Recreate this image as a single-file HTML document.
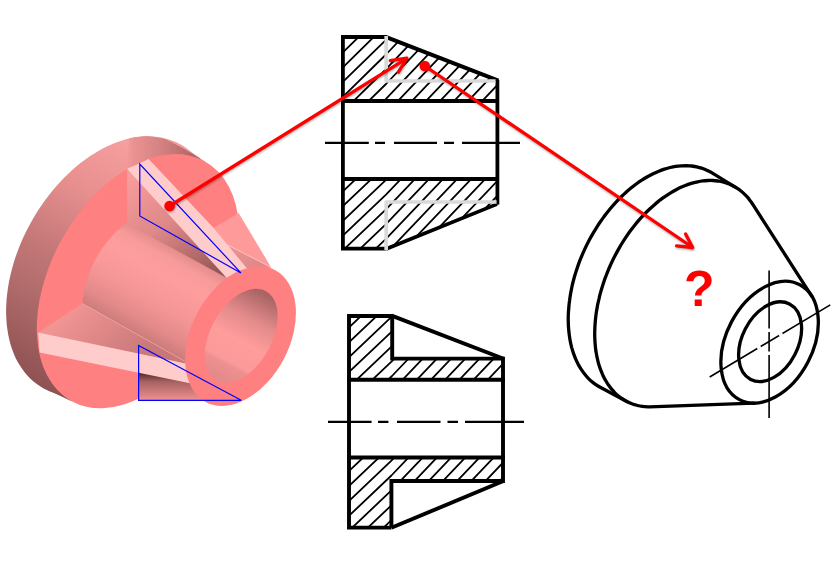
<!DOCTYPE html>
<html lang="en">
<head>
<meta charset="utf-8">
<title>Section view question</title>
<style>
html,body{margin:0;padding:0;background:#ffffff;}
body{width:836px;height:563px;overflow:hidden;font-family:"Liberation Sans",sans-serif;}
svg{display:block;}
</style>
</head>
<body>
<svg width="836" height="563" viewBox="0 0 836 563">
<defs>
<filter id="fSh" x="-5%" y="-5%" width="110%" height="110%"><feGaussianBlur stdDeviation="0.9"/></filter>
<linearGradient id="gRim" gradientUnits="userSpaceOnUse" x1="150" y1="130" x2="10" y2="380">
<stop offset="0" stop-color="#f59c9c"/><stop offset="0.06" stop-color="#f89f9f"/><stop offset="0.29" stop-color="#e89090"/><stop offset="0.52" stop-color="#c67979"/><stop offset="0.655" stop-color="#b56f6f"/><stop offset="0.806" stop-color="#a36161"/><stop offset="0.924" stop-color="#935555"/><stop offset="1" stop-color="#8c5050"/>
</linearGradient>
<linearGradient id="gRimTop" gradientUnits="userSpaceOnUse" x1="122" y1="150" x2="200" y2="150">
<stop offset="0" stop-color="#f39a9a" stop-opacity="0"/><stop offset="0.15" stop-color="#ea9292"/><stop offset="0.5" stop-color="#d48282"/><stop offset="1" stop-color="#a56262"/>
</linearGradient>
<linearGradient id="gHub" gradientUnits="userSpaceOnUse" x1="150" y1="236.5" x2="105.6" y2="316.6">
<stop offset="0" stop-color="#e68e8e"/><stop offset="0.12" stop-color="#f99b9b"/><stop offset="0.3" stop-color="#ff9d9d"/><stop offset="0.6" stop-color="#f59696"/><stop offset="0.85" stop-color="#e28989"/><stop offset="1" stop-color="#cc7c7c"/>
</linearGradient>
<linearGradient id="gRibL" gradientUnits="userSpaceOnUse" x1="70" y1="310" x2="130" y2="370">
<stop offset="0" stop-color="#f19494"/><stop offset="1" stop-color="#c87878"/>
</linearGradient>
<linearGradient id="gRibT" gradientUnits="userSpaceOnUse" x1="135" y1="175" x2="205" y2="285">
<stop offset="0" stop-color="#f89c9c"/><stop offset="0.45" stop-color="#de8888"/><stop offset="0.8" stop-color="#b06868"/><stop offset="1" stop-color="#8f5353"/>
</linearGradient>
<linearGradient id="gShadowT" gradientUnits="userSpaceOnUse" x1="215" y1="245" x2="185" y2="285">
<stop offset="0" stop-color="#8f5252"/><stop offset="1" stop-color="#f09292"/>
</linearGradient>
<linearGradient id="gShadowB" gradientUnits="userSpaceOnUse" x1="160" y1="372" x2="160" y2="400">
<stop offset="0" stop-color="#4a2222"/><stop offset="0.35" stop-color="#a86262"/><stop offset="1" stop-color="#ee9090"/>
</linearGradient>
<linearGradient id="gBore" gradientUnits="userSpaceOnUse" x1="264" y1="294" x2="220" y2="378">
<stop offset="0" stop-color="#a96464"/><stop offset="0.3" stop-color="#e38b8b"/><stop offset="0.55" stop-color="#ff9c9c"/><stop offset="0.8" stop-color="#fb9a9a"/><stop offset="0.84" stop-color="#ee9090"/><stop offset="1" stop-color="#e48a8a"/>
</linearGradient>
<linearGradient id="gRibR2" gradientUnits="userSpaceOnUse" x1="225" y1="244" x2="260" y2="268">
<stop offset="0" stop-color="#f29595"/><stop offset="1" stop-color="#dd8787"/>
</linearGradient>
</defs>
<g fill="url(#gRim)">
<path d="M180.5 144.4 C182.8 145.7 185.1 147.2 187.2 148.8 C189.4 150.5 191.4 152.2 193.4 154.1 C195.3 156.0 197.1 158.1 198.9 160.3 C200.6 162.5 202.2 164.8 203.7 167.2 C205.2 169.7 206.6 172.3 207.9 175.0 C209.1 177.6 210.3 180.5 211.3 183.4 C212.3 186.3 213.2 189.3 213.9 192.4 C214.7 195.5 215.3 198.7 215.8 202.0 C216.3 205.3 216.7 208.6 216.9 212.1 C217.1 215.5 217.2 219.0 217.2 222.6 C217.1 226.1 217.0 229.7 216.7 233.4 C216.3 237.0 215.9 240.8 215.3 244.5 C214.8 248.2 214.1 252.0 213.2 255.7 C212.4 259.5 211.4 263.3 210.3 267.0 C209.3 270.8 208.0 274.6 206.7 278.4 C205.4 282.1 203.9 285.9 202.4 289.6 C200.8 293.3 199.1 297.0 197.3 300.6 C195.5 304.3 193.6 307.9 191.6 311.4 C189.6 314.9 187.5 318.4 185.3 321.8 C183.1 325.2 180.8 328.6 178.4 331.8 C176.1 335.1 173.6 338.3 171.1 341.4 C168.5 344.4 165.9 347.4 163.2 350.3 C160.6 353.2 157.8 356.0 155.0 358.6 C152.2 361.3 149.4 363.8 146.5 366.2 C143.6 368.6 140.6 370.9 137.6 373.0 C134.7 375.2 131.7 377.2 128.6 379.1 C125.6 380.9 122.5 382.7 119.5 384.2 C116.4 385.8 113.4 387.2 110.3 388.5 C107.2 389.8 104.1 390.9 101.1 391.8 C98.0 392.8 95.0 393.6 92.0 394.2 C89.0 394.8 86.0 395.3 83.0 395.6 C80.1 395.9 77.1 396.0 74.3 396.0 C71.4 396.0 68.6 395.8 65.8 395.4 C63.1 395.1 60.3 394.6 57.7 393.9 C55.1 393.2 52.5 392.4 50.0 391.4 C47.5 390.4 45.1 389.2 42.8 387.9 C40.5 386.6 38.2 385.1 36.1 383.5 C33.9 381.9 31.9 380.1 29.9 378.2 C28.0 376.3 26.2 374.2 24.4 372.0 C22.7 369.8 21.1 367.5 19.6 365.1 C18.1 362.6 16.7 360.0 15.4 357.4 C14.2 354.7 13.0 351.9 12.0 349.0 C11.0 346.1 10.1 343.0 9.4 339.9 C8.6 336.8 8.0 333.6 7.5 330.3 C7.0 327.1 6.6 323.7 6.4 320.2 C6.2 316.8 6.1 313.3 6.1 309.8 C6.2 306.2 6.3 302.6 6.6 298.9 C7.0 295.3 7.4 291.6 8.0 287.8 C8.5 284.1 9.2 280.4 10.1 276.6 C10.9 272.8 11.9 269.1 13.0 265.3 C14.0 261.5 15.3 257.7 16.6 254.0 C17.9 250.2 19.4 246.5 20.9 242.7 C22.5 239.0 24.2 235.3 26.0 231.7 C27.8 228.1 29.7 224.5 31.7 220.9 C33.7 217.4 35.8 213.9 38.0 210.5 C40.2 207.1 42.5 203.7 44.9 200.5 C47.2 197.2 49.7 194.0 52.2 191.0 C54.8 187.9 57.4 184.9 60.1 182.0 C62.7 179.1 65.5 176.4 68.3 173.7 C71.1 171.1 73.9 168.5 76.8 166.1 C79.7 163.7 82.7 161.4 85.7 159.3 C88.6 157.1 91.6 155.1 94.7 153.3 C97.7 151.4 100.8 149.7 103.8 148.1 C106.9 146.5 109.9 145.1 113.0 143.8 C116.1 142.6 119.2 141.5 122.2 140.5 C125.3 139.5 128.3 138.8 131.3 138.1 C134.3 137.5 137.3 137.0 140.3 136.7 C143.2 136.4 146.2 136.3 149.0 136.3 C151.9 136.3 154.7 136.5 157.5 136.9 C160.2 137.2 163.0 137.7 165.6 138.4 C168.2 139.1 170.8 140.0 173.3 141.0 C175.8 142.0 178.2 143.1 180.5 144.4Z"/>
<path d="M180.5 144.5 L205 161.4 L71.1 400.9 L42.8 387.8Z"/>
</g>
<path d="M199.4 158.0 C198.1 157.2 195.2 155.3 191.6 153.2 C188.0 151.1 182.8 147.8 177.9 145.4 C173.0 143.0 167.5 140.1 162.3 138.6 C157.1 137.1 152.2 136.3 146.7 136.2 C141.1 136.1 131.9 137.7 129.0 138.0 L127 170 L205 165 Z" fill="url(#gRimTop)"/>
<ellipse cx="138.04" cy="281.14" rx="137.2" ry="87" transform="rotate(-60.8 138.04 281.14)" fill="#ff8080"/>
<path d="M213.7 227.9 L238.6 213.0 L271.2 267.4 L250.0 270.0 L225.4 243.9Z" fill="#ff9a9a"/>
<path d="M225.4 243.9 L271.2 267.4 L245.0 268.0Z" fill="url(#gRibR2)"/>
<path d="M225.4 243.9 L271.2 267.4" stroke="#ffd6d6" stroke-width="0.7"/>
<path d="M126.8 222.8 C126.4 223.2 124.9 224.3 123.9 225.0 C122.9 225.8 121.9 226.6 121.0 227.4 C120.0 228.2 119.0 229.1 118.1 229.9 C117.1 230.8 116.2 231.7 115.3 232.6 C114.4 233.5 113.4 234.5 112.5 235.4 C111.6 236.4 110.7 237.4 109.9 238.4 C109.0 239.4 108.1 240.4 107.3 241.5 C106.4 242.5 105.6 243.6 104.8 244.7 C104.0 245.8 103.2 246.9 102.4 248.0 C101.6 249.1 100.9 250.2 100.1 251.4 C99.4 252.6 98.6 253.7 97.9 254.9 C97.2 256.1 96.6 257.3 95.9 258.5 C95.2 259.7 94.6 260.9 94.0 262.1 C93.3 263.4 92.7 264.6 92.2 265.8 C91.6 267.1 91.0 268.3 90.5 269.6 C90.0 270.9 89.5 272.1 89.0 273.4 C88.5 274.6 88.1 275.9 87.6 277.2 C87.2 278.5 86.8 279.7 86.4 281.0 C86.0 282.3 85.7 283.6 85.3 284.8 C85.0 286.1 84.7 287.4 84.4 288.6 C84.2 289.9 83.9 291.2 83.7 292.4 C83.5 293.7 83.3 294.9 83.1 296.2 C82.9 297.4 82.8 298.7 82.7 299.9 C82.6 301.1 82.5 302.9 82.4 303.6 L184.4 361 L200 400 L260 330 L227.5 278 L127 223.7 Z" fill="url(#gHub)"/>
<path d="M82.4 303.5 L38.2 332.5 L185.6 363.4 L184.4 361.0Z" fill="url(#gRibL)"/>
<path d="M82.4 303.5 L184.4 361" stroke="#f7b4b4" stroke-width="0.6"/>
<path d="M138.5 370.0 L190.0 380.0 L215.0 400.5 L138.5 400.5Z" fill="url(#gShadowB)"/>
<path d="M38.2 332.5 L185.6 363.4 L190.0 383.2 L39.6 352.6Z" fill="#ffcccc"/>
<path d="M127.1 168.5 L127.1 223.5 L226.5 277.7 L200.0 240.0Z" fill="url(#gRibT)"/>
<path d="M127.1 168.8 L139.8 163.2 L148.6 159.1 L213.7 227.9 L247.0 268.6 L226.5 277.7Z" fill="#ffcccc"/>
<ellipse cx="240.5" cy="336.1" rx="74.5" ry="49" transform="rotate(-62.5 240.5 336.1)" fill="#ff8080"/>
<path d="M265.9 291.2 C267.1 291.8 268.2 292.6 269.2 293.5 C270.2 294.4 271.1 295.4 272.0 296.5 C272.8 297.7 273.6 298.9 274.3 300.2 C274.9 301.6 275.5 303.0 276.0 304.6 C276.4 306.1 276.8 307.7 277.1 309.4 C277.3 311.1 277.5 312.9 277.5 314.7 C277.6 316.5 277.6 318.4 277.4 320.4 C277.3 322.3 277.0 324.3 276.7 326.3 C276.3 328.3 275.9 330.4 275.3 332.4 C274.8 334.4 274.1 336.5 273.4 338.5 C272.6 340.6 271.8 342.6 270.9 344.6 C270.0 346.6 269.0 348.6 267.9 350.6 C266.8 352.5 265.6 354.4 264.4 356.3 C263.2 358.1 261.9 359.9 260.6 361.6 C259.2 363.3 257.8 365.0 256.4 366.5 C254.9 368.1 253.5 369.5 251.9 370.9 C250.4 372.3 248.9 373.5 247.3 374.7 C245.8 375.8 244.2 376.9 242.6 377.8 C241.0 378.7 239.4 379.5 237.8 380.2 C236.2 380.9 234.7 381.4 233.1 381.8 C231.6 382.2 230.0 382.5 228.6 382.7 C227.1 382.8 225.6 382.8 224.2 382.7 C222.8 382.6 221.5 382.3 220.2 382.0 C218.9 381.6 217.6 381.0 216.5 380.4 C215.3 379.8 214.2 379.0 213.2 378.1 C212.2 377.2 211.3 376.2 210.4 375.1 C209.6 373.9 208.8 372.7 208.1 371.4 C207.5 370.0 206.9 368.6 206.4 367.0 C206.0 365.5 205.6 363.9 205.3 362.2 C205.1 360.5 204.9 358.7 204.9 356.9 C204.8 355.1 204.8 353.2 205.0 351.2 C205.1 349.3 205.4 347.3 205.7 345.3 C206.1 343.3 206.5 341.2 207.1 339.2 C207.6 337.2 208.3 335.1 209.0 333.1 C209.8 331.0 210.6 329.0 211.5 327.0 C212.4 325.0 213.4 323.0 214.5 321.0 C215.6 319.1 216.8 317.2 218.0 315.3 C219.2 313.5 220.5 311.7 221.8 310.0 C223.2 308.3 224.6 306.6 226.0 305.1 C227.5 303.5 228.9 302.1 230.5 300.7 C232.0 299.3 233.5 298.1 235.1 296.9 C236.6 295.8 238.2 294.7 239.8 293.8 C241.4 292.9 243.0 292.1 244.6 291.4 C246.2 290.7 247.7 290.2 249.3 289.8 C250.8 289.4 252.4 289.1 253.8 288.9 C255.3 288.8 256.8 288.8 258.2 288.9 C259.6 289.0 260.9 289.3 262.2 289.6 C263.5 290.0 264.8 290.6 265.9 291.2Z" fill="url(#gBore)"/>
<path d="M139.8 164 L139.8 216 L240.9 272.9 Z" fill="none" stroke="#0000ff" stroke-width="1.2"/>
<path d="M138.6 345.5 L138.6 400.3 L241.2 400.3 Z" fill="none" stroke="#0000ff" stroke-width="1.2"/>
<clipPath id="cT1"><path d="M343 37 L386 37 L497.3 80 L497.3 101 L343 101Z"/></clipPath>
<clipPath id="cT2"><path d="M343 179 L497.3 179 L497.3 203.6 L386 248.7 L343 248.7Z"/></clipPath>
<g clip-path="url(#cT1)" stroke="#000" stroke-width="1.8" fill="none" stroke-linejoin="round">
<path d="M340.0 11.1 L386.0 -34.0 L500.0 -153.7"/>
<path d="M340.0 25.8 L386.0 -19.2 L500.0 -138.9"/>
<path d="M340.0 40.6 L386.0 -4.5 L500.0 -124.2"/>
<path d="M340.0 55.3 L386.0 10.2 L500.0 -109.5"/>
<path d="M340.0 70.1 L386.0 25.0 L500.0 -94.7"/>
<path d="M340.0 84.8 L386.0 39.8 L500.0 -80.0"/>
<path d="M340.0 99.6 L386.0 54.5 L500.0 -65.2"/>
<path d="M340.0 114.3 L386.0 69.2 L500.0 -50.5"/>
<path d="M340.0 129.1 L386.0 84.0 L500.0 -35.7"/>
<path d="M340.0 143.8 L386.0 98.8 L500.0 -21.0"/>
<path d="M340.0 158.6 L386.0 113.5 L500.0 -6.2"/>
<path d="M340.0 173.3 L386.0 128.2 L500.0 8.5"/>
<path d="M340.0 188.1 L386.0 143.0 L500.0 23.3"/>
<path d="M340.0 202.8 L386.0 157.8 L500.0 38.0"/>
<path d="M340.0 217.6 L386.0 172.5 L500.0 52.8"/>
<path d="M340.0 232.3 L386.0 187.2 L500.0 67.5"/>
<path d="M340.0 247.1 L386.0 202.0 L500.0 82.3"/>
<path d="M340.0 261.8 L386.0 216.8 L500.0 97.0"/>
</g>
<g clip-path="url(#cT2)" stroke="#000" stroke-width="1.8" fill="none" stroke-linejoin="round">
<path d="M340.0 149.9 L386.0 106.2 L500.0 -13.5"/>
<path d="M340.0 164.6 L386.0 120.9 L500.0 1.2"/>
<path d="M340.0 179.4 L386.0 135.7 L500.0 16.0"/>
<path d="M340.0 194.1 L386.0 150.4 L500.0 30.7"/>
<path d="M340.0 208.9 L386.0 165.2 L500.0 45.5"/>
<path d="M340.0 223.6 L386.0 179.9 L500.0 60.2"/>
<path d="M340.0 238.4 L386.0 194.7 L500.0 75.0"/>
<path d="M340.0 253.1 L386.0 209.4 L500.0 89.7"/>
<path d="M340.0 267.9 L386.0 224.2 L500.0 104.5"/>
<path d="M340.0 282.6 L386.0 238.9 L500.0 119.2"/>
<path d="M340.0 297.4 L386.0 253.7 L500.0 134.0"/>
<path d="M340.0 312.1 L386.0 268.4 L500.0 148.8"/>
<path d="M340.0 326.9 L386.0 283.2 L500.0 163.5"/>
<path d="M340.0 341.6 L386.0 297.9 L500.0 178.2"/>
<path d="M340.0 356.4 L386.0 312.7 L500.0 193.0"/>
<path d="M340.0 371.1 L386.0 327.4 L500.0 207.8"/>
<path d="M340.0 385.9 L386.0 342.2 L500.0 222.5"/>
<path d="M340.0 400.6 L386.0 356.9 L500.0 237.2"/>
<path d="M340.0 415.4 L386.0 371.7 L500.0 252.0"/>
</g>
<g fill="none" stroke="#000" stroke-width="3.8" stroke-linejoin="miter">
<path d="M386 37 L342.9 37 L342.9 248.7 L386 248.7"/>
<path d="M497.4 80 L497.4 204.6"/>
<path d="M341 101 L499 101 M341 179 L499 179"/>
<path d="M385 36.6 L498.4 80.6" stroke-width="4"/>
<path d="M386 249 L497 204.1" stroke-width="3.7"/>
</g>
<path d="M386.2 36 L386.2 81 L495.6 81" fill="none" stroke="#d9d9d9" stroke-width="3.7" stroke-linejoin="round" stroke-linecap="butt"/>
<path d="M386.2 250 L386.2 202 L496.6 202" fill="none" stroke="#d9d9d9" stroke-width="3.7" stroke-linejoin="round"/>
<path d="M325 142.9 H368.8 M375 142.9 H385 M394 142.9 H437 M444 142.9 H454 M462 142.9 H520" stroke="#000" stroke-width="2.2"/>
<clipPath id="cB1"><path d="M349 316 L392.2 316 L392.2 358.6 L503 358.6 L503 379.7 L349 379.7Z"/></clipPath>
<clipPath id="cB2"><path d="M349 457.5 L503 457.5 L503 481 L391.4 481 L391.4 527.6 L349 527.6Z"/></clipPath>
<g clip-path="url(#cB1)" stroke="#000" stroke-width="1.8" fill="none" stroke-linejoin="round">
<path d="M345.0 286.6 L392.0 241.9 L506.0 122.2"/>
<path d="M345.0 301.5 L392.0 256.8 L506.0 137.1"/>
<path d="M345.0 316.4 L392.0 271.7 L506.0 152.0"/>
<path d="M345.0 331.2 L392.0 286.6 L506.0 166.9"/>
<path d="M345.0 346.1 L392.0 301.5 L506.0 181.8"/>
<path d="M345.0 361.0 L392.0 316.4 L506.0 196.7"/>
<path d="M345.0 375.9 L392.0 331.3 L506.0 211.6"/>
<path d="M345.0 390.8 L392.0 346.2 L506.0 226.5"/>
<path d="M345.0 405.7 L392.0 361.1 L506.0 241.4"/>
<path d="M345.0 420.6 L392.0 376.0 L506.0 256.3"/>
<path d="M345.0 435.5 L392.0 390.9 L506.0 271.2"/>
<path d="M345.0 450.4 L392.0 405.8 L506.0 286.1"/>
<path d="M345.0 465.3 L392.0 420.7 L506.0 301.0"/>
<path d="M345.0 480.2 L392.0 435.6 L506.0 315.9"/>
<path d="M345.0 495.1 L392.0 450.5 L506.0 330.8"/>
<path d="M345.0 510.0 L392.0 465.4 L506.0 345.7"/>
<path d="M345.0 524.9 L392.0 480.3 L506.0 360.6"/>
<path d="M345.0 539.8 L392.0 495.2 L506.0 375.5"/>
</g>
<g clip-path="url(#cB2)" stroke="#000" stroke-width="1.8" fill="none" stroke-linejoin="round">
<path d="M345.0 430.2 L391.4 386.1 L506.0 265.8"/>
<path d="M345.0 445.1 L391.4 401.0 L506.0 280.7"/>
<path d="M345.0 460.0 L391.4 415.9 L506.0 295.6"/>
<path d="M345.0 474.9 L391.4 430.8 L506.0 310.5"/>
<path d="M345.0 489.8 L391.4 445.7 L506.0 325.4"/>
<path d="M345.0 504.7 L391.4 460.6 L506.0 340.3"/>
<path d="M345.0 519.6 L391.4 475.5 L506.0 355.2"/>
<path d="M345.0 534.5 L391.4 490.4 L506.0 370.1"/>
<path d="M345.0 549.4 L391.4 505.3 L506.0 385.0"/>
<path d="M345.0 564.3 L391.4 520.2 L506.0 399.9"/>
<path d="M345.0 579.2 L391.4 535.1 L506.0 414.8"/>
<path d="M345.0 594.1 L391.4 550.0 L506.0 429.7"/>
<path d="M345.0 609.0 L391.4 564.9 L506.0 444.6"/>
<path d="M345.0 623.9 L391.4 579.8 L506.0 459.5"/>
<path d="M345.0 638.8 L391.4 594.7 L506.0 474.4"/>
<path d="M345.0 653.7 L391.4 609.6 L506.0 489.3"/>
<path d="M345.0 668.6 L391.4 624.5 L506.0 504.2"/>
<path d="M345.0 683.5 L391.4 639.4 L506.0 519.1"/>
<path d="M345.0 698.4 L391.4 654.3 L506.0 534.0"/>
</g>
<g fill="none" stroke="#000" stroke-width="3.9" stroke-linejoin="miter">
<path d="M392.2 316 L349 316 L349 527.6 L391.4 527.6"/>
<path d="M392.2 316 L392.2 358.6 L503 358.6 L503 481 L391.4 481 L391.4 527.6"/>
<path d="M347 379.7 L505 379.7 M347 457.5 L505 457.5"/>
<path d="M391.6 315.6 L503.6 358.8"/>
<path d="M391.4 527.8 L503.4 481"/>
</g>
<path d="M328 421.9 H371.6 M378 421.9 H388.4 M397 421.9 H440.5 M447.5 421.9 H458 M465 421.9 H524" stroke="#000" stroke-width="2.2"/>
<g fill="none" stroke="#000" stroke-width="3.3" stroke-linecap="round" stroke-linejoin="round">
<path d="M625.4 400.7 L599.3 386.8 C598.6 386.3 596.4 385.1 595.1 384.1 C593.7 383.1 592.4 382.0 591.1 380.9 C589.8 379.8 588.6 378.6 587.4 377.3 C586.2 376.1 585.1 374.7 584.0 373.3 C582.9 371.9 581.9 370.4 580.9 368.9 C579.9 367.4 579.0 365.7 578.1 364.1 C577.2 362.4 576.4 360.7 575.6 358.9 C574.9 357.1 574.2 355.3 573.5 353.4 C572.9 351.5 572.3 349.6 571.7 347.6 C571.2 345.6 570.7 343.6 570.3 341.5 C569.9 339.4 569.6 337.3 569.3 335.1 C569.0 333.0 568.8 330.7 568.6 328.5 C568.4 326.3 568.3 324.0 568.3 321.7 C568.2 319.4 568.2 317.0 568.3 314.7 C568.4 312.3 568.6 309.9 568.8 307.5 C569.0 305.1 569.2 302.7 569.6 300.2 C569.9 297.8 570.3 295.3 570.7 292.9 C571.2 290.4 571.7 287.9 572.2 285.5 C572.8 283.0 573.4 280.5 574.1 278.0 C574.8 275.5 575.6 273.0 576.4 270.6 C577.2 268.1 578.0 265.6 578.9 263.2 C579.8 260.7 580.8 258.3 581.8 255.8 C582.8 253.4 583.9 251.0 585.0 248.6 C586.1 246.2 587.3 243.8 588.5 241.5 C589.7 239.2 591.0 236.8 592.3 234.6 C593.6 232.3 595.0 230.0 596.4 227.8 C597.8 225.6 599.2 223.4 600.7 221.3 C602.1 219.2 603.7 217.1 605.2 215.0 C606.8 213.0 608.3 211.0 610.0 209.0 C611.6 207.1 613.2 205.2 614.9 203.3 C616.6 201.5 618.3 199.7 620.0 197.9 C621.8 196.2 623.5 194.5 625.3 192.9 C627.1 191.3 628.9 189.8 630.7 188.3 C632.5 186.8 634.4 185.4 636.2 184.0 C638.0 182.7 639.9 181.4 641.8 180.2 C643.7 178.9 645.5 177.8 647.4 176.7 C649.3 175.7 651.2 174.7 653.1 173.7 C655.0 172.8 656.9 172.0 658.8 171.2 C660.7 170.4 662.6 169.7 664.4 169.1 C666.3 168.5 668.2 168.0 670.1 167.5 C671.9 167.1 673.8 166.7 675.6 166.4 C677.5 166.1 679.3 165.9 681.1 165.8 C682.9 165.7 684.7 165.6 686.4 165.6 C688.2 165.7 690.0 165.8 691.7 166.0 C693.4 166.2 695.1 166.4 696.7 166.8 C698.4 167.2 700.0 167.6 701.6 168.1 C703.2 168.6 704.8 169.2 706.3 169.9 C707.8 170.6 710.0 171.8 710.8 172.1 L734.4 186.6"/>
<path d="M811.7 296.1 L753.3 205.2 C752.8 204.4 751.4 202.2 750.4 200.9 C749.3 199.5 748.3 198.2 747.2 196.9 C746.0 195.7 744.9 194.5 743.7 193.4 C742.5 192.3 741.3 191.2 740.0 190.2 C738.7 189.3 737.4 188.4 736.0 187.5 C734.6 186.7 733.2 185.9 731.8 185.2 C730.4 184.5 728.9 183.9 727.4 183.4 C725.9 182.8 724.4 182.4 722.8 182.0 C721.3 181.6 719.7 181.3 718.0 181.0 C716.4 180.8 714.8 180.6 713.1 180.5 C711.5 180.4 709.8 180.4 708.1 180.5 C706.4 180.6 704.6 180.7 702.9 180.9 C701.2 181.1 699.4 181.4 697.6 181.8 C695.9 182.2 694.1 182.6 692.3 183.1 C690.5 183.6 688.7 184.2 686.9 184.9 C685.1 185.5 683.3 186.3 681.5 187.1 C679.7 187.9 677.9 188.8 676.1 189.7 C674.3 190.7 672.5 191.7 670.7 192.8 C668.9 193.9 667.1 195.0 665.3 196.3 C663.5 197.5 661.8 198.8 660.0 200.1 C658.3 201.5 656.5 202.9 654.8 204.4 C653.1 205.9 651.4 207.4 649.7 209.0 C648.0 210.6 646.3 212.2 644.7 213.9 C643.0 215.6 641.4 217.4 639.8 219.2 C638.2 221.0 636.6 222.9 635.1 224.8 C633.6 226.7 632.1 228.6 630.6 230.6 C629.1 232.6 627.7 234.6 626.3 236.7 C624.9 238.8 623.5 240.9 622.2 243.0 C620.8 245.2 619.6 247.4 618.3 249.6 C617.1 251.8 615.9 254.0 614.7 256.3 C613.5 258.6 612.4 260.9 611.3 263.2 C610.3 265.5 609.2 267.8 608.3 270.1 C607.3 272.5 606.4 274.9 605.5 277.2 C604.6 279.6 603.8 282.0 603.0 284.4 C602.2 286.8 601.5 289.2 600.8 291.6 C600.1 294.0 599.5 296.4 599.0 298.8 C598.4 301.2 597.9 303.6 597.4 305.9 C597.0 308.3 596.6 310.7 596.2 313.1 C595.9 315.4 595.6 317.8 595.4 320.1 C595.2 322.4 595.0 324.8 594.9 327.1 C594.8 329.4 594.7 331.6 594.7 333.9 C594.7 336.1 594.8 338.3 594.9 340.5 C595.0 342.7 595.2 344.8 595.4 347.0 C595.6 349.1 595.9 351.2 596.3 353.2 C596.6 355.2 597.0 357.2 597.5 359.2 C597.9 361.2 598.4 363.1 599.0 364.9 C599.6 366.8 600.2 368.6 600.9 370.4 C601.5 372.1 602.3 373.9 603.0 375.5 C603.8 377.2 604.6 378.8 605.5 380.3 C606.4 381.9 607.3 383.3 608.3 384.8 C609.3 386.2 610.3 387.6 611.4 388.9 C612.5 390.2 613.6 391.4 614.7 392.6 C615.9 393.7 617.1 394.8 618.4 395.9 C619.6 396.9 620.9 397.9 622.2 398.7 C623.6 399.6 624.9 400.5 626.3 401.2 C627.7 402.0 629.2 402.6 630.7 403.2 C632.1 403.8 633.6 404.4 635.2 404.8 C636.7 405.3 638.3 405.7 639.9 406.0 C641.5 406.3 643.1 406.5 644.7 406.6 C646.4 406.8 648.9 406.8 649.7 406.9 L753.8 403.1"/>
<ellipse cx="769.6" cy="342.2" rx="64.9" ry="43.2" transform="rotate(-62.3 769.6 342.2)"/>
<ellipse cx="770.1" cy="341.7" rx="42.4" ry="27.9" transform="rotate(-62.8 770.1 341.7)"/>
</g>
<path d="M769.1 270.6 V418 M709.7 377 L830.3 304.9" stroke="#000" stroke-width="1.6" fill="none"/>
<path d="M769.1 328.4 V331.9 M769.1 351.4 V354.9 M757.2 348.4 L760.7 346.4 M779 335.5 L782.5 333.5" stroke="#fff" stroke-width="2.4" fill="none"/>
<g fill="none" stroke="#000" stroke-opacity="0.33" stroke-width="3" stroke-linecap="round" stroke-linejoin="round" filter="url(#fSh)" transform="translate(0.6 1.4)">
<path d="M169.6 206 L406 58.8"/>
<path d="M390.3 60.6 L406.9 58.2 L398.4 72.2"/>
<path d="M424.8 66 L692 247"/>
<path d="M676.6 245.8 L692.6 247.5 L685.6 234"/>
<circle cx="169.6" cy="206" r="5.2" fill="#000" fill-opacity="0.33" stroke="none"/>
<circle cx="424.8" cy="66" r="5.2" fill="#000" fill-opacity="0.33" stroke="none"/>
</g>
<g fill="none" stroke="#ff0000" stroke-width="3.3" stroke-linecap="round" stroke-linejoin="round">
<path d="M169.6 206 L406 58.8"/>
<path d="M390.3 60.6 L406.9 58.2 L398.4 72.2"/>
<path d="M424.8 66 L692 247"/>
<path d="M676.6 245.8 L692.6 247.5 L685.6 234"/>
</g>
<circle cx="169.6" cy="206" r="5.3" fill="#ff0000"/>
<circle cx="424.8" cy="66" r="5.3" fill="#ff0000"/>
<text x="684" y="306.1" font-family="'Liberation Sans', Arial, sans-serif" font-weight="700" font-size="50" fill="#ff0000">?</text>
</svg>
</body>
</html>
